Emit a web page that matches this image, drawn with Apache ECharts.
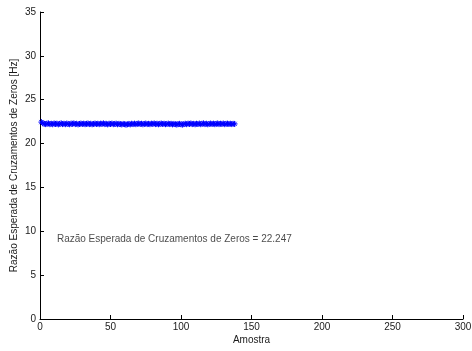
<!DOCTYPE html>
<html>
<head>
<meta charset="utf-8">
<script src="https://cdn.jsdelivr.net/npm/echarts@6/dist/echarts.min.js"></script>
<style>html,body{margin:0;padding:0;background:#fff}#c{width:472px;height:351px}</style>
</head>
<body>
<div id="c"></div>
<script>
const xTicks = [0, 50, 100, 150, 200, 250, 300];
const yTicks = [0, 5, 10, 15, 20, 25, 30, 35];
const values = [
22.45, 22.32, 22.25, 22.22, 22.28, 22.30, 22.21, 22.26, 22.20, 22.29,
22.24, 22.27, 22.19, 22.25, 22.31, 22.22, 22.26, 22.21, 22.28, 22.24,
22.20, 22.27, 22.25, 22.30, 22.22, 22.26, 22.19, 22.24, 22.28, 22.23,
22.27, 22.21, 22.25, 22.29, 22.22, 22.26, 22.20, 22.24, 22.28, 22.23,
22.26, 22.21, 22.27, 22.24, 22.30, 22.22, 22.25, 22.19, 22.26, 22.23,
22.28, 22.21, 22.24, 22.27, 22.20, 22.25, 22.22, 22.18, 22.24, 22.21,
22.15, 22.20, 22.24, 22.19, 22.26, 22.22, 22.27, 22.21, 22.25, 22.29,
22.23, 22.26, 22.20, 22.24, 22.28, 22.22, 22.25, 22.21, 22.27, 22.24,
22.29, 22.22, 22.26, 22.20, 22.25, 22.28, 22.23, 22.26, 22.21, 22.24,
22.27, 22.22, 22.25, 22.19, 22.24, 22.21, 22.17, 22.22, 22.25, 22.20,
22.16, 22.22, 22.26, 22.21, 22.27, 22.24, 22.29, 22.22, 22.25, 22.20,
22.26, 22.23, 22.28, 22.21, 22.25, 22.30, 22.22, 22.26, 22.20, 22.24,
22.28, 22.23, 22.27, 22.21, 22.25, 22.29, 22.22, 22.26, 22.24, 22.28,
22.21, 22.25, 22.27, 22.23, 22.26, 22.22, 22.25, 22.24
];
const annotation = { x: 12, y: 9.1, text: 'Razão Esperada de Cruzamentos de Zeros = 22.247' };
const xName = 'Amostra';
const yName = 'Razão Esperada de Cruzamentos de Zeros [Hz]';

const seriesData = values.map((v, i) => [i + 1, v]);
const font = 'Liberation Sans, Arial, Helvetica, sans-serif';
const asterisk = 'path://M0,-10L0,10M-10,0L10,0M-7,-7L7,7M-7,7L7,-7';
const textColor = '#1a1a1a';

const chart = echarts.init(document.getElementById('c'));
chart.setOption({
  animation: false,
  backgroundColor: '#fff',
  grid: { left: 40, right: 9, top: 12, bottom: 32, containLabel: false, outerBoundsMode: 'none' },
  xAxis: {
    type: 'value', min: xTicks[0], max: xTicks[xTicks.length - 1], interval: 50,
    name: xName, nameLocation: 'middle', nameGap: 16, nameMoveOverlap: false,
    nameTextStyle: { color: textColor, fontSize: 10, fontFamily: font },
    axisLine: { show: true, lineStyle: { color: '#000', width: 1 } },
    axisTick: { show: true, inside: true, length: 4, lineStyle: { color: '#000' } },
    axisLabel: { color: textColor, fontSize: 10, fontFamily: font, margin: 3 },
    splitLine: { show: false }
  },
  yAxis: {
    type: 'value', min: yTicks[0], max: yTicks[yTicks.length - 1], interval: 5,
    name: yName, nameLocation: 'middle', nameGap: 21, nameMoveOverlap: false,
    nameTextStyle: { color: textColor, fontSize: 10, fontFamily: font },
    axisLine: { show: true, lineStyle: { color: '#000', width: 1 } },
    axisTick: { show: true, inside: true, length: 4, lineStyle: { color: '#000' } },
    axisLabel: { color: textColor, fontSize: 10, fontFamily: font, margin: 4 },
    splitLine: { show: false }
  },
  series: [
    {
      type: 'line', data: seriesData,
      symbol: asterisk, symbolSize: 6, showAllSymbol: true,
      lineStyle: { color: '#0000ff', width: 0.5 },
      itemStyle: { color: '#0000ff', borderColor: '#0000ff', borderWidth: 1 }
    },
    {
      type: 'scatter', data: [[annotation.x, annotation.y]],
      symbolSize: 0, silent: true,
      label: { show: true, position: 'right', distance: 0, formatter: annotation.text,
        color: textColor, fontSize: 10, fontFamily: font }
    }
  ]
});
</script>
</body>
</html>
